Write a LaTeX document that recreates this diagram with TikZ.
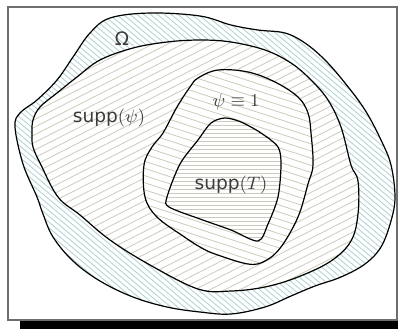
\documentclass[tikz,border=0pt]{standalone}
\usepackage{fontspec}
\setsansfont{DejaVu Sans}
\definecolor{hatchblue}{RGB}{176,208,210}
\definecolor{hatchbeige}{RGB}{204,204,188}
\definecolor{textgrey}{RGB}{60,60,60}
\definecolor{framegrey}{RGB}{110,110,110}
\newcommand\shapeOmega[1]{#1 plot[smooth cycle,tension=0.6] coordinates {(110,18) (150,13) (200,16) (231,25) (258,30) (285,33) (305,43) (325,60) (345,83) (365,110) (381,140) (391,165) (395,197) (391,221) (381,247) (365,264) (341,277) (315,286) (291,296) (265,307) (231,314) (200,312) (167,307) (133,297) (100,281) (73,261) (53,237) (43,214) (37,197) (23,164) (15,127) (20,113) (37,100) (57,80) (73,57) (90,33)};}
\newcommand\shapePsi[1]{#1 plot[smooth cycle,tension=0.6] coordinates {(200,40) (231,42) (265,50) (291,63) (311,80) (328,100) (341,127) (351,165) (358,181) (358,214) (351,241) (331,261) (298,277) (265,287) (231,291) (198,289) (150,265) (110,240) (80,215) (58,197) (41,165) (33,147) (32,133) (33,120) (40,107) (57,93) (77,77) (100,60) (133,48) (167,42)};}
\newcommand\shapeOne[1]{#1 plot[smooth cycle,tension=0.6] coordinates {(198,78) (218,70) (248,72) (275,82) (298,97) (308,113) (311,133) (313,165) (308,184) (298,217) (281,247) (265,261) (248,264) (215,254) (200,247) (183,236) (157,217) (145,197) (144,165) (152,147) (163,133) (177,107) (190,87)};}
\newcommand\shapeT[1]{#1 plot[smooth cycle,tension=0.5] coordinates {(198,140) (211,123) (225,118) (241,122) (261,133) (278,147) (281,165) (278,197) (268,224) (258,241) (231,230) (200,219) (169,207) (167,197) (180,164)};}
\newcommand\hatchlines[3]{\foreach \k in {-100,...,100} \draw[#3, line width=0.4pt] ({200-\k*#2*sin(#1)-420*cos(#1)},{165+\k*#2*cos(#1)-420*sin(#1)}) -- ({200-\k*#2*sin(#1)+420*cos(#1)},{165+\k*#2*cos(#1)+420*sin(#1)});}
\tikzset{curve/.style={draw=black, line width=0.6pt},
  lbl/.style={text=textgrey, font=\fontsize{9.3}{11}\selectfont, inner sep=0pt}}
\begin{document}
\begin{tikzpicture}[x=0.5pt,y=-0.5pt]
\useasboundingbox (0,0) rectangle (398,329);
\fill[black] (20,321) rectangle (398,329);
\fill[white] (8,7) rectangle (397,320);
\draw[framegrey, line width=0.55pt] (8,7) rectangle (397,320);
\begin{scope}
\shapeOmega{\clip}
\hatchlines{40}{4.4}{hatchblue}
\end{scope}
\shapePsi{\fill[white]}
\begin{scope}
\shapePsi{\clip}
\hatchlines{-27}{6.8}{hatchbeige}
\end{scope}
\shapeOne{\fill[white]}
\begin{scope}
\shapeOne{\clip}
\hatchlines{18}{6.8}{hatchbeige}
\end{scope}
\shapeT{\fill[white]}
\begin{scope}
\shapeT{\clip}
\hatchlines{0}{4}{hatchbeige}
\end{scope}
\shapeOmega{\draw[curve]}
\shapePsi{\draw[curve]}
\shapeOne{\draw[curve]}
\shapeT{\draw[curve]}
\node[lbl] (omega) at (122,39) {\textsf{Ω}};
\node[lbl] (supppsi) at (109,118) {\textsf{supp}$(\psi)$};
\node[lbl] (psione) at (236,102) {$\psi\equiv1$};
\node[lbl] (suppT) at (231,185) {\textsf{supp}$(T)$};
\end{tikzpicture}
\end{document}
